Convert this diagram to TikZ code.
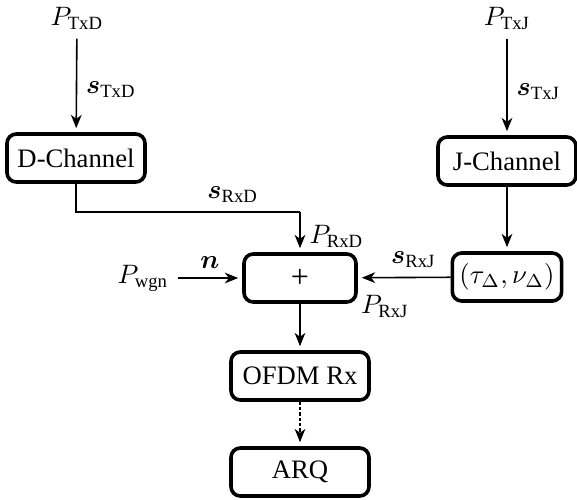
\documentclass[tikz,border=0pt]{standalone}
\usepackage{bm}
\usepackage{fontspec}
\setmainfont{Liberation Serif}
\usetikzlibrary{arrows.meta}

\tikzset{
  block/.style={draw, line width=1.35pt, rounded corners=3.5pt,
                minimum width=51.75pt, minimum height=18pt, inner sep=2pt},
  sig/.style={-{Stealth[length=5pt,width=4pt,inset=1.5pt]}, semithick, shorten >=1.5pt},
}

\begin{document}
\begin{tikzpicture}[x=0.375pt, y=-0.375pt]
\useasboundingbox (0,0) rectangle (577,499);

% sources
\node (ptxd) at (77,18) {$P_{\mathrm{TxD}}$};
\node (ptxj) at (507,18) {$P_{\mathrm{TxJ}}$};
\node (pwgn) at (143,278) {$P_{\mathrm{wgn}}$};

% blocks
\node[block] (dch) at (76,158) {D-Channel};
\node[block] (jch) at (507,161) {J-Channel};
\node[block, minimum width=42pt] (plus) at (300,278) {\large +};
\node[block, minimum width=41pt] (delay) at (507,277) {$(\tau_{\Delta},\nu_{\Delta})$};
\node[block] (ofdm) at (300,376) {OFDM Rx};
\node[block] (arq) at (300,472) {ARQ};

\coordinate (bend) at (300,212);
\node (prxj) at (385,306) {$P_{\mathrm{RxJ}}$};

% connections
\draw[sig] (ptxd) -- node[right, pos=0.55] {$\bm{s}_{\mathrm{TxD}}$} (dch);
\draw[sig] (ptxj) -- node[right, pos=0.55] {$\bm{s}_{\mathrm{TxJ}}$} (jch);
\draw[semithick] (dch.south) |- node[above, pos=0.85] {$\bm{s}_{\mathrm{RxD}}$} (bend);
\draw[sig] (bend) -- node[right, pos=0.6] {$P_{\mathrm{RxD}}$} (plus);
\draw[sig] (jch) -- (delay);
\draw[sig] (delay) -- node[above, pos=0.4] {$\bm{s}_{\mathrm{RxJ}}$} (plus);
\draw[sig] (pwgn) -- node[above] {$\bm{n}$} (plus);
\draw[sig, thin] (plus) -- (ofdm);
\draw[sig, thin, dash pattern=on 1.2pt off 0.8pt] (ofdm) -- (arq);
\end{tikzpicture}
\end{document}
